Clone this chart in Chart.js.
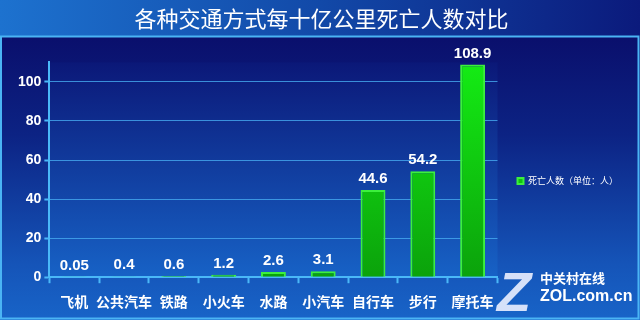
<!DOCTYPE html>
<html>
<head>
<meta charset="utf-8">
<script src="https://cdn.jsdelivr.net/npm/chart.js@4"></script>
<style>
  html, body { margin: 0; padding: 0; background: #0b1470; }
  #wrap { width: 640px; height: 320px; position: relative; }
</style>
</head>
<body>
<div id="wrap"><canvas id="chart"></canvas></div>
<script>
const categories = ['飞机', '公共汽车', '铁路', '小火车', '水路', '小汽车', '自行车', '步行', '摩托车'];
const deaths = [0.05, 0.4, 0.6, 1.2, 2.6, 3.1, 44.6, 54.2, 108.9];
const valueLabels = ['0.05', '0.4', '0.6', '1.2', '2.6', '3.1', '44.6', '54.2', '108.9'];
const yTickLabels = [0, 20, 40, 60, 80, 100];

const numFont = '"Liberation Sans", "Noto Sans CJK SC", sans-serif';
const cjkFont = '"Noto Sans CJK SC", "Liberation Sans", sans-serif';

// фон: полоса заголовка, рамка и тело
const backdrop = {
  id: 'backdrop',
  beforeDraw(chart) {
    const { ctx, width, height } = chart;
    ctx.save();
    let g = ctx.createLinearGradient(0, 0, width, 0);
    g.addColorStop(0, '#1d72cf');
    g.addColorStop(0.5, '#1249a8');
    g.addColorStop(1, '#0b1a7c');
    ctx.fillStyle = g;
    ctx.fillRect(0, 0, width, 36);
    g = ctx.createLinearGradient(0, 36, 0, height);
    g.addColorStop(0, '#0a0f6c');
    g.addColorStop(0.35, '#0c2384');
    g.addColorStop(0.8, '#1554b8');
    g.addColorStop(1, '#1864c8');
    ctx.fillStyle = g;
    ctx.fillRect(0, 36, width, height - 36);
    const a = chart.chartArea;
    g = ctx.createLinearGradient(0, a.top, 0, a.bottom);
    g.addColorStop(0, '#0b1878');
    g.addColorStop(1, '#1762c6');
    ctx.fillStyle = g;
    ctx.fillRect(a.left, a.top, a.right - a.left, a.bottom - a.top);
    ctx.strokeStyle = '#4ab4f4';
    ctx.lineWidth = 2;
    ctx.strokeRect(1, 36.5, width - 2.5, height - 38);
    ctx.restore();
  }
};

// подписи значений над столбцами и водяной знак
const valueTags = {
  id: 'valueTags',
  afterDatasetsDraw(chart) {
    const { ctx } = chart;
    const meta = chart.getDatasetMeta(0);
    ctx.save();
    ctx.fillStyle = '#ffffff';
    ctx.font = 'bold 15px ' + numFont;
    ctx.textAlign = 'center';
    ctx.textBaseline = 'alphabetic';
    meta.data.forEach((bar, i) => {
      ctx.fillText(valueLabels[i], bar.x, bar.y - 7);
    });
    ctx.font = 'bold italic 56px ' + numFont;
    ctx.fillStyle = 'rgba(235,240,255,0.9)';
    ctx.textAlign = 'left';
    ctx.fillText('Z', 497, 311);
    ctx.font = 'bold 13px ' + cjkFont;
    ctx.fillStyle = '#ffffff';
    ctx.fillText('中关村在线', 540, 283);
    ctx.font = 'bold 16px ' + numFont;
    ctx.fillText('ZOL.com.cn', 540, 301);
    ctx.restore();
  }
};

new Chart(document.getElementById('chart'), {
  type: 'bar',
  data: {
    labels: categories,
    datasets: [{
      label: '死亡人数（单位：人）',
      data: deaths,
      backgroundColor: ctx => {
        const a = ctx.chart.chartArea;
        if (!a) return '#14b814';
        const g = ctx.chart.ctx.createLinearGradient(0, a.top, 0, a.bottom);
        g.addColorStop(0, '#14ec14');
        g.addColorStop(1, '#0ba20b');
        return g;
      },
      borderColor: '#3cf03c',
      borderWidth: 2,
      borderSkipped: 'bottom',
      barPercentage: 0.5,
      categoryPercentage: 1
    }]
  },
  options: {
    responsive: true,
    maintainAspectRatio: false,
    animation: false,
    layout: { padding: { left: 15, right: 12, top: 0, bottom: 0 } },
    plugins: {
      title: {
        display: true,
        text: '各种交通方式每十亿公里死亡人数对比',
        color: '#ffffff',
        font: { family: cjkFont, size: 22, weight: 'normal' },
        padding: { top: 5, bottom: 31 }
      },
      legend: {
        display: true,
        position: 'right',
        title: {
          display: true,
          text: '',
          font: { size: 10 },
          padding: { top: 30, bottom: 0 }
        },
        labels: {
          color: '#ffffff',
          font: { family: cjkFont, size: 9 },
          boxWidth: 6,
          boxHeight: 6,
          padding: 20
        }
      },
      tooltip: { enabled: false }
    },
    scales: {
      x: {
        grid: {
          display: true,
          drawOnChartArea: false,
          drawTicks: true,
          tickLength: 6,
          tickColor: '#4ab8f8',
          tickWidth: 2
        },
        border: { color: '#4ab8f8', width: 2 },
        ticks: {
          color: '#ffffff',
          padding: 10,
          maxRotation: 0,
          minRotation: 0,
          autoSkip: false,
          font: { family: cjkFont, size: 14, weight: 'bold' }
        }
      },
      y: {
        min: 0,
        max: 110,
        grid: {
          color: 'rgba(70,170,240,0.8)',
          lineWidth: 1,
          tickLength: 5,
          tickWidth: 2,
          tickColor: ctx => yTickLabels.includes(ctx.tick.value) ? '#4ab8f8' : 'rgba(0,0,0,0)'
        },
        border: { color: '#4ab8f8', width: 2 },
        ticks: {
          stepSize: 10,
          color: '#ffffff',
          padding: 3,
          font: { family: numFont, size: 14, weight: 'bold' },
          callback: v => yTickLabels.includes(v) ? String(v) : ''
        }
      }
    }
  },
  plugins: [backdrop, valueTags]
});
</script>
</body>
</html>
